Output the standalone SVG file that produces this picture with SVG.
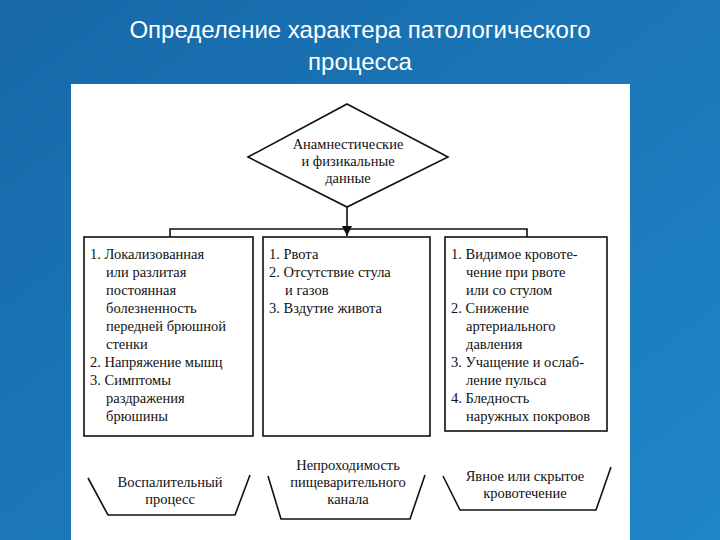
<svg xmlns="http://www.w3.org/2000/svg" width="720" height="540" viewBox="0 0 720 540">
<defs>
<linearGradient id="bg" x1="0" y1="0" x2="1" y2="1"><stop offset="0" stop-color="#1768a8"/><stop offset="1" stop-color="#1f86c8"/></linearGradient>
<marker id="ar" markerWidth="10" markerHeight="10" refX="10" refY="5" orient="auto" markerUnits="userSpaceOnUse"><path d="M0,0 L10,5 L0,10 Z" fill="#111"/></marker>
<style>
.t{font-family:'Liberation Serif','Times New Roman',serif;font-size:14.5px;fill:#111}
.s{fill:none;stroke:#111;stroke-width:1.6}
.h{font-family:'Liberation Sans',Arial,sans-serif;font-size:24px;fill:#fff}
</style>
</defs>
<rect width="720" height="540" fill="url(#bg)"/>
<text class="h" x="360" y="38" text-anchor="middle">Определение характера патологического</text>
<text class="h" x="360" y="70" text-anchor="middle">процесса</text>
<rect x="71" y="84" width="559" height="456" fill="#fff"/>
<g id="connectors">
<path class="s" d="M347,207 V236" marker-end="url(#ar)"/>
<path class="s" d="M170,237 V229 H527 V237"/>
</g>
<g id="diamond">
<polygon class="s" points="347,104 448,157 347,207 248,157"/>
<text class="t" x="348" y="149" text-anchor="middle">Анамнестические</text>
<text class="t" x="348" y="166" text-anchor="middle">и физикальные</text>
<text class="t" x="348" y="183" text-anchor="middle">данные</text>
</g>
<g id="box1">
<rect class="s" x="84" y="237" width="169" height="199"/>
<text class="t" x="90" y="259">1. Локализованная</text>
<text class="t" x="106" y="277">или разлитая</text>
<text class="t" x="106" y="295">постоянная</text>
<text class="t" x="106" y="313">болезненность</text>
<text class="t" x="106" y="331">передней брюшной</text>
<text class="t" x="106" y="349">стенки</text>
<text class="t" x="90" y="367">2. Напряжение мышц</text>
<text class="t" x="90" y="385">3. Симптомы</text>
<text class="t" x="106" y="403">раздражения</text>
<text class="t" x="106" y="421">брюшины</text>
</g>
<g id="box2">
<rect class="s" x="263" y="237" width="167" height="199"/>
<text class="t" x="269" y="259">1. Рвота</text>
<text class="t" x="269" y="277">2. Отсутствие стула</text>
<text class="t" x="285" y="295">и газов</text>
<text class="t" x="269" y="313">3. Вздутие живота</text>
</g>
<g id="box3">
<rect class="s" x="445" y="237" width="162" height="194"/>
<text class="t" x="451" y="259">1. Видимое кровоте-</text>
<text class="t" x="466" y="277">чение при рвоте</text>
<text class="t" x="466" y="295">или со стулом</text>
<text class="t" x="451" y="313">2. Снижение</text>
<text class="t" x="466" y="331">артериального</text>
<text class="t" x="466" y="349">давления</text>
<text class="t" x="451" y="367">3. Учащение и ослаб-</text>
<text class="t" x="466" y="385">ление пульса</text>
<text class="t" x="451" y="403">4. Бледность</text>
<text class="t" x="466" y="421">наружных покровов</text>
</g>
<g id="out1">
<path class="s" d="M88,478 L108,515 H235 L250,475"/>
<text class="t" x="170" y="487" text-anchor="middle">Воспалительный</text>
<text class="t" x="170" y="504" text-anchor="middle">процесс</text>
</g>
<g id="out2">
<path class="s" d="M268,476 L281,519 H410 L425,475"/>
<text class="t" x="348" y="470" text-anchor="middle">Непроходимость</text>
<text class="t" x="348" y="487" text-anchor="middle">пищеварительного</text>
<text class="t" x="348" y="504" text-anchor="middle">канала</text>
</g>
<g id="out3">
<path class="s" d="M443,476 L460,510 H596 L611,467"/>
<text class="t" x="525" y="481" text-anchor="middle">Явное или скрытое</text>
<text class="t" x="525" y="498" text-anchor="middle">кровотечение</text>
</g>
</svg>
